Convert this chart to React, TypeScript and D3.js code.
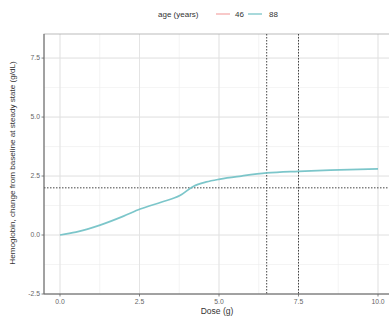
import React from "react";
import * as d3 from "d3";

const doses = [0, 0.5, 1.26, 2.0, 2.52, 3.2, 3.77, 4.19, 4.6, 5.03, 5.7, 6.5, 7.5, 8.5, 10];
const hgb88 = [0.0, 0.12, 0.42, 0.8, 1.1, 1.4, 1.67, 2.06, 2.25, 2.37, 2.5, 2.63, 2.7, 2.75, 2.8];
const xTicks = [0, 2.5, 5, 7.5, 10];
const yTicks = [-2.5, 0, 2.5, 5, 7.5];
const refDoses = [6.5, 7.5];
const refLevel = 2.0;
const legendAges = ["46", "88"];
const legendColors = ["#F4A6A6", "#6EC0C4"];

export default function App() {
  const W = 389, H = 322;
  const left = 44, right = 392, top = 34, bottom = 294;
  const x = d3.scaleLinear().domain([0, 10]).range([60, 378]);
  const y = d3.scaleLinear().domain([-2.5, 8.52]).range([bottom, top]);
  const minorX = d3.range(-1.25, 11.3, 1.25);
  const minorY = d3.range(-1.25, 8.6, 1.25);
  const line = d3.line<number>().x((_, i) => x(doses[i])).y((d) => y(d)).curve(d3.curveMonotoneX);
  const font = "Liberation Sans, Arial, sans-serif";
  const legendLineX = [216, 248];
  const legendTextX = [235, 269];
  return (
    <svg width={W} height={H} style={{ position: "absolute", left: 0, top: 0, background: "#fff" }} fontFamily={font}>
      <rect x={0} y={0} width={W} height={H} fill="#fff" />
      {/* legend */}
      <g fontSize={8} fill="#333">
        <text x={158} y={17}>age (years)</text>
        {legendAges.map((a, i) => (
          <g key={a}>
            <line x1={legendLineX[i]} x2={legendLineX[i] + 14} y1={14} y2={14} stroke={legendColors[i]} strokeWidth={1.2} />
            <text x={legendTextX[i]} y={17}>{a}</text>
          </g>
        ))}
      </g>
      {/* grid */}
      <g stroke="#ededed" strokeWidth={0.6}>
        {minorX.map((v) => x(v) > left && <line key={"mx" + v} x1={x(v)} x2={x(v)} y1={top} y2={bottom} />)}
        {minorY.map((v) => y(v) > top && y(v) < bottom && <line key={"my" + v} x1={left} x2={right} y1={y(v)} y2={y(v)} />)}
      </g>
      <g stroke="#e2e2e2" strokeWidth={0.9}>
        {xTicks.map((v) => <line key={"gx" + v} x1={x(v)} x2={x(v)} y1={top} y2={bottom} />)}
        {yTicks.map((v) => y(v) < bottom && <line key={"gy" + v} x1={left} x2={right} y1={y(v)} y2={y(v)} />)}
      </g>
      <rect x={left} y={top} width={right - left} height={bottom - top} fill="none" stroke="#aaa" strokeWidth={0.8} />
      {/* reference lines */}
      <g stroke="#444" strokeWidth={1} strokeDasharray="1.5,1.5">
        {refDoses.map((v) => <line key={"r" + v} x1={x(v)} x2={x(v)} y1={top} y2={bottom} />)}
        <line x1={left} x2={right} y1={y(refLevel)} y2={y(refLevel)} />
      </g>
      {/* curve */}
      <path d={line(hgb88) || ""} fill="none" stroke={legendColors[1]} strokeWidth={1.7} opacity={0.9} />
      {/* axes */}
      <line x1={left} x2={left} y1={top} y2={bottom} stroke="#666" strokeWidth={1} />
      <line x1={left} x2={right} y1={bottom} y2={bottom} stroke="#666" strokeWidth={1} />
      <g fontSize={6.8} fill="#666">
        {yTicks.map((v) => (
          <g key={"yt" + v}>
            <line x1={left - 2.5} x2={left} y1={y(v)} y2={y(v)} stroke="#666" strokeWidth={0.8} />
            <text x={left - 4} y={y(v) + 2.4} textAnchor="end">{v.toFixed(1)}</text>
          </g>
        ))}
        {xTicks.map((v) => (
          <g key={"xt" + v}>
            <line x1={x(v)} x2={x(v)} y1={bottom} y2={bottom + 2.5} stroke="#666" strokeWidth={0.8} />
            <text x={x(v)} y={bottom + 10} textAnchor="middle">{v.toFixed(1)}</text>
          </g>
        ))}
      </g>
      <text x={217} y={314} fontSize={8.5} fill="#333" textAnchor="middle">Dose (g)</text>
      <text transform={`translate(15,${(top + bottom) / 2 - 1}) rotate(-90)`} fontSize={8.1} fill="#333" textAnchor="middle">
        Hemoglobin, change from baseline at steady state (g/dL)
      </text>
    </svg>
  );
}
